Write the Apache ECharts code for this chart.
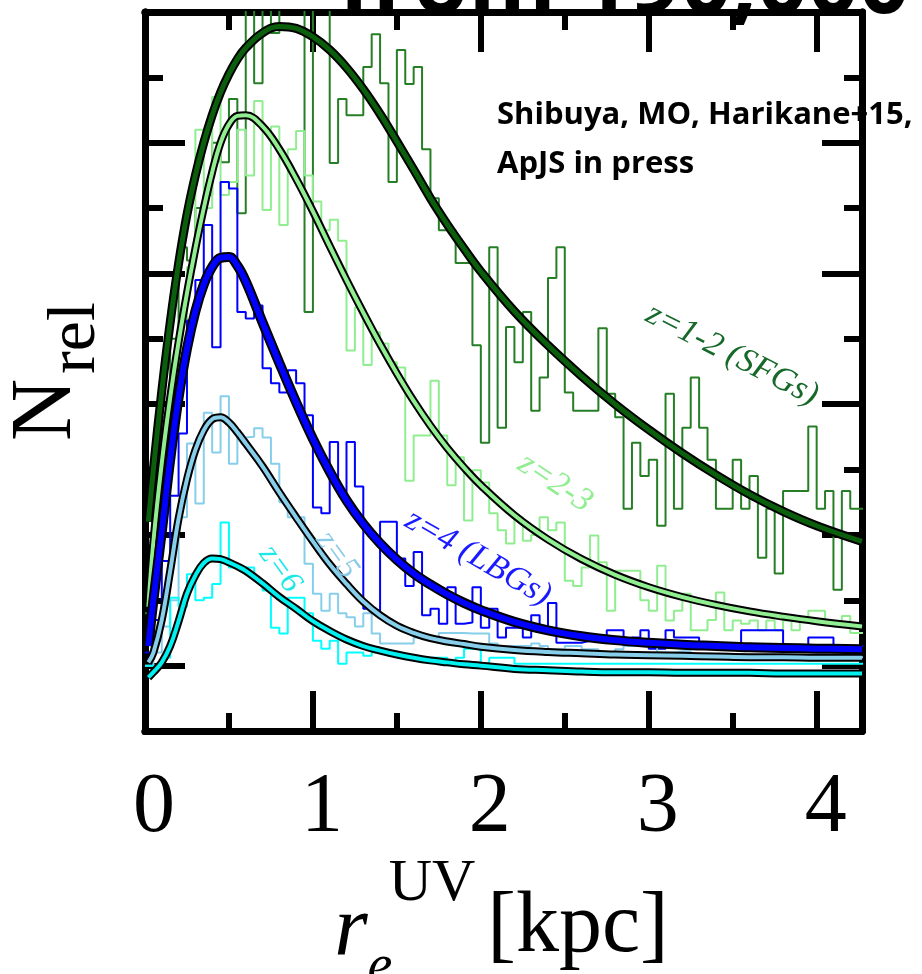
<!DOCTYPE html>
<html>
<head>
<meta charset="utf-8">
<script src="https://cdn.jsdelivr.net/npm/echarts@6/dist/echarts.min.js"></script>
<style>
  html, body { margin: 0; padding: 0; background: #fff; }
  #chart { width: 922px; height: 974px; }
</style>
</head>
<body>
<div id="chart"></div>
<script>
// bin width of the histograms (kpc); bins start at r = 0
const BIN = 0.05;
const X_MAX = 4.27;

// histograms, one value per bin
const hist12 = [0.8, 2.6, 3.8, 5.0, 6.4, 6.2, 7.0, 7.2, 8.0, 7.7,
  8.67, 6.92, 10.6, 8.91, 10.6, 9.68, 10.6, 10.6, 10.6, 5.41,
  10.6, 10.6, 7.69, 8.67, 8.42, 8.42, 9.16, 9.66, 8.91, 7.4,
  9.42, 8.9, 9.16, 7.9, 7.15, 6.66, 6.66, 6.16, 6.16, 4.9,
  3.41, 6.4, 3.64, 5.18, 4.64, 5.41, 3.9, 4.41, 5.93, 6.4,
  4.18, 3.9, 3.9, 3.9, 5.16, 4.16, 3.8, 2.4, 3.41, 2.9,
  3.15, 2.14, 4.16, 2.4, 3.64, 4.41, 3.64, 3.15, 2.4, 2.4,
  3.15, 2.4, 2.9, 1.65, 2.4, 1.41, 2.67, 2.67, 2.67, 3.66,
  2.4, 2.67, 1.16, 2.67, 2.4, 2.4];
const hist23 = [0.5, 1.5, 2.6, 3.6, 5.3, 6.1, 8.2, 7.0, 8.7, 7.2,
  7.4, 8.2, 7.5, 8.64, 6.97, 8.25, 6.74, 7.9, 8.18, 7.5,
  7.1, 6.66, 6.82, 6.5, 4.82, 5.48, 4.6, 5.1, 4.93, 4.64,
  4.56, 2.83, 3.52, 3.52, 4.36, 3.52, 2.76, 3.19, 2.22, 2.99,
  2.8, 2.33, 2.07, 1.87, 2.27, 1.91, 2.0, 2.27, 2.07, 2.19,
  1.3, 1.22, 1.5, 1.99, 1.58, 0.84, 1.45, 1.45, 1.45, 1.0,
  0.84, 1.53, 0.69, 0.84, 1.1, 0.54, 0.54, 0.7, 1.12, 0.54,
  0.69, 0.64, 0.69, 0.54, 0.69, 0.54, 0.69, 0.54, 0.69, 0.84,
  0.84, 0.69, 0.6, 0.76, 0.5, 0.5];
const hist4 = [0.2, 0.7, 1.6, 2.6, 3.55, 5.28, 5.9, 6.74, 4.87, 7.4,
  7.3, 5.41, 5.31, 5.51, 4.55, 4.32, 4.18, 4.52, 4.32, 3.83,
  2.42, 2.33, 3.42, 2.63, 3.42, 2.74, 0.87, 0.84, 2.2, 2.2,
  1.64, 1.22, 1.74, 0.77, 0.87, 0.64, 1.2, 0.64, 0.66, 1.2,
  0.58, 0.87, 0.43, 0.58, 0.58, 0.43, 0.77, 0.58, 0.96, 0.35,
  0.35, 0.35, 0.38, 0.38, 0.38, 0.54, 0.54, 0.3, 0.43, 0.54,
  0.26, 0.26, 0.54, 0.43, 0.43, 0.43, 0.26, 0.26, 0.26, 0.26,
  0.3, 0.54, 0.54, 0.54, 0.54, 0.54, 0.3, 0.3, 0.3, 0.43,
  0.43, 0.43, 0.3, 0.3, 0.3, 0.3];
const hist5 = [0.0, 0.2, 0.6, 1.0, 2.27, 3.4, 2.48, 3.87, 3.26, 4.12,
  3.09, 3.49, 3.5, 3.63, 3.49, 3.09, 2.5, 2.27, 2.27, 1.56,
  1.1, 0.84, 1.1, 0.8, 0.74, 0.6, 0.8, 0.49, 0.34, 0.34,
  0.34, 0.34, 0.43, 0.43, 0.43, 0.5, 0.5, 0.5, 0.49, 0.49,
  0.49, 0.34, 0.3, 0.3, 0.3, 0.3, 0.34, 0.3, 0.25, 0.25,
  0.3, 0.3, 0.25, 0.25, 0.2, 0.2, 0.25, 0.3, 0.3, 0.3,
  0.3, 0.2, 0.2, 0.22, 0.22, 0.15, 0.15, 0.13, 0.13, 0.15,
  0.15, 0.13, 0.13, 0.15, 0.15, 0.13, 0.13, 0.13, 0.15, 0.15,
  0.13, 0.13, 0.13, 0.13, 0.13, 0.13];
const hist6 = [0.0, 0.0, 0.12, 1.04, 0.9, 1.4, 1.0, 1.04, 1.25, 2.19,
  1.5, 1.5, 1.5, 1.3, 1.15, 0.58, 0.49, 1.04, 1.04, 0.8,
  0.38, 0.26, 0.38, 0.03, 0.2, 0.2, 0.15, 0.23, 0.23, 0.15,
  0.15, 0.15, 0.12, 0.12, 0.12, 0.12, 0.03, 0.12, 0.26, 0.26,
  0.03, 0.12, 0.12, 0.12, 0.03, 0.03, 0.03, 0.03, 0.03, 0.03,
  0.03, 0.03, 0.03, 0.03, 0.03, 0.03, 0.03, 0.03, 0.03, 0.03,
  0.03, 0.03, 0.03, 0.03, 0.03, 0.03, 0.03, 0.03, 0.03, 0.03,
  0.03, 0.03, 0.03, 0.03, 0.03, 0.03, 0.03, 0.03, 0.03, 0.03,
  0.03, 0.03, 0.03, 0.03, 0.03, 0.03];

// fitted curves, sampled at fitX
const fitX = [0.02, 0.05, 0.1, 0.15, 0.2, 0.25, 0.3, 0.35, 0.4, 0.45,
  0.5, 0.55, 0.6, 0.7, 0.8, 0.9, 1.0, 1.1, 1.2, 1.3,
  1.4, 1.5, 1.6, 1.7, 1.8, 1.9, 2.0, 2.2, 2.4, 2.6,
  2.8, 3.0, 3.2, 3.4, 3.6, 3.8, 4.0, 4.27];
const fit12 = [2.2, 3.0, 4.2, 5.25, 6.15, 6.9, 7.5, 8.0, 8.42, 8.77,
  9.05, 9.28, 9.45, 9.68, 9.78, 9.75, 9.62, 9.42, 9.15, 8.82,
  8.44, 8.02, 7.59, 7.15, 6.75, 6.38, 6.03, 5.42, 4.9, 4.43,
  4.0, 3.61, 3.25, 2.92, 2.62, 2.36, 2.14, 1.9];
const fit23 = [0.9, 1.9, 3.1, 4.1, 4.95, 5.7, 6.38, 7.0, 7.55, 8.0,
  8.28, 8.41, 8.42, 8.25, 7.9, 7.45, 6.95, 6.42, 5.9, 5.4,
  4.92, 4.47, 4.05, 3.67, 3.33, 3.03, 2.76, 2.3, 1.93, 1.63,
  1.39, 1.2, 1.05, 0.93, 0.83, 0.75, 0.68, 0.6];
const fit4 = [0.3, 1.0, 2.05, 3.15, 4.1, 4.85, 5.42, 5.83, 6.1, 6.24,
  6.25, 6.12, 5.88, 5.25, 4.63, 4.03, 3.47, 2.97, 2.53, 2.17,
  1.87, 1.62, 1.41, 1.24, 1.09, 0.96, 0.85, 0.67, 0.54, 0.45,
  0.39, 0.35, 0.32, 0.3, 0.28, 0.27, 0.26, 0.25];
const fit5 = [0.05, 0.2, 0.7, 1.45, 2.25, 2.85, 3.3, 3.6, 3.77, 3.8,
  3.72, 3.57, 3.4, 3.05, 2.65, 2.27, 1.9, 1.55, 1.25, 0.98,
  0.77, 0.61, 0.5, 0.42, 0.37, 0.33, 0.29, 0.24, 0.21, 0.19,
  0.17, 0.16, 0.15, 0.14, 0.13, 0.13, 0.12, 0.12];
const fit6 = [-0.18, -0.1, 0.05, 0.3, 0.68, 1.1, 1.38, 1.57, 1.64, 1.63,
  1.58, 1.52, 1.45, 1.26, 1.05, 0.87, 0.68, 0.53, 0.4, 0.3,
  0.23, 0.17, 0.12, 0.08, 0.05, 0.02, 0.0, -0.05, -0.07, -0.09,
  -0.1, -0.1, -0.11, -0.11, -0.11, -0.12, -0.12, -0.12];

// tick values: long ticks on the main steps, short ones in between
const xMajor = [0, 1, 2, 3, 4];
const xMinor = [0.5, 1.5, 2.5, 3.5];
const yMajor = [0, 2, 4, 6, 8];
const yMinor = [1, 3, 5, 7, 9];

const groups = [
  { hist: hist12, fit: fit12, histColor: '#267f26', fitColor: '#0b5e0b', fitWidth: 5, label: 'z=1-2 (SFGs)', textColor: '#17692a' },
  { hist: hist23, fit: fit23, histColor: '#90ee90', fitColor: '#90ee90', fitWidth: 4, label: 'z=2-3', textColor: '#90ee90' },
  { hist: hist4, fit: fit4, histColor: '#0000ff', fitColor: '#0000ff', fitWidth: 6, label: 'z=4 (LBGs)', textColor: '#1a1aff' },
  { hist: hist5, fit: fit5, histColor: '#87ceeb', fitColor: '#87ceeb', fitWidth: 4, label: 'z=5', textColor: '#8ccbe8' },
  { hist: hist6, fit: fit6, histColor: '#00ffff', fitColor: '#00f0f0', fitWidth: 4, label: 'z=6', textColor: '#1de8e8' }
];

function stepData(vals) {
  const d = vals.map((v, k) => [+(k * BIN).toFixed(2), v]);
  d.push([+(vals.length * BIN).toFixed(2), vals[vals.length - 1]]);
  return d;
}

const series = [];
groups.forEach(g => {
  series.push({
    type: 'line', step: 'end', symbol: 'none', silent: true, z: 2,
    xAxisIndex: 0, yAxisIndex: 0,
    data: stepData(g.hist),
    lineStyle: { color: g.histColor, width: 2 }
  });
});
groups.forEach(g => {
  const d = fitX.map((x, i) => [x, g.fit[i]]);
  series.push({
    type: 'line', smooth: 0.4, symbol: 'none', silent: true, z: 3,
    xAxisIndex: 0, yAxisIndex: 0,
    data: d, lineStyle: { color: '#000', width: g.fitWidth + 4 }
  });
  series.push({
    type: 'line', smooth: 0.4, symbol: 'none', silent: true, z: 3,
    xAxisIndex: 0, yAxisIndex: 0,
    data: d, lineStyle: { color: g.fitColor, width: g.fitWidth }
  });
});

const frame = { show: true, onZero: false, lineStyle: { color: '#000', width: 7 } };
function tick(len, values) {
  return { show: true, inside: true, length: len, customValues: values, lineStyle: { color: '#000', width: 6 } };
}
const xBase = { type: 'value', min: 0, max: X_MAX, splitLine: { show: false }, axisLabel: { show: false }, axisLine: frame };
const yBase = { type: 'value', min: -1, max: 10, splitLine: { show: false }, axisLabel: { show: false }, axisLine: frame };

const serif = '"Liberation Serif", "DejaVu Serif", serif';

// the second grid sits on top of the first and only carries the long ticks
const option = {
  animation: false,
  backgroundColor: '#fff',
  grid: [
    { left: 145, right: 60, top: 12, bottom: 243 },
    { left: 145, right: 60, top: 12, bottom: 243 }
  ],
  xAxis: [
    Object.assign({}, xBase, {
      gridIndex: 0, position: 'bottom', axisTick: tick(18, xMinor),
      axisLabel: {
        show: true, margin: 36, color: '#000', fontFamily: serif, fontSize: 84, lineHeight: 84,
        padding: [0, 0, 0, 18], customValues: xMajor
      }
    }),
    Object.assign({}, xBase, { gridIndex: 1, position: 'bottom', axisTick: tick(40, xMajor) }),
    Object.assign({}, xBase, { gridIndex: 0, position: 'top', axisTick: tick(18, xMinor) }),
    Object.assign({}, xBase, { gridIndex: 1, position: 'top', axisTick: tick(40, xMajor) })
  ],
  yAxis: [
    Object.assign({}, yBase, { gridIndex: 0, position: 'left', axisTick: tick(18, yMinor) }),
    Object.assign({}, yBase, { gridIndex: 1, position: 'left', axisTick: tick(40, yMajor) }),
    Object.assign({}, yBase, { gridIndex: 0, position: 'right', axisTick: tick(18, yMinor) }),
    Object.assign({}, yBase, { gridIndex: 1, position: 'right', axisTick: tick(40, yMajor) })
  ],
  series: series,
  graphic: [
    // slide title, cut off by the top edge
    { type: 'text', x: 624, y: 32, z: 0,
      style: { text: 'from 190,000', font: 'bold 89px "Open Sans"', fill: '#000', align: 'center', verticalAlign: 'bottom' } },
    { type: 'text', x: 497, y: 91, z: 1,
      style: { text: 'Shibuya, MO, Harikane+15,\nApJS in press', font: 'bold 31px "Open Sans"', lineHeight: 49,
        fill: '#000', align: 'left', verticalAlign: 'top' } },
    // series labels
    { type: 'text', x: 732, y: 355, rotation: -0.47, z: 10,
      style: { text: groups[0].label, font: 'italic 34px ' + serif, fill: groups[0].textColor, align: 'center', verticalAlign: 'middle' } },
    { type: 'text', x: 555, y: 483, rotation: -0.58, z: 10,
      style: { text: groups[1].label, font: 'italic 34px ' + serif, fill: groups[1].textColor, align: 'center', verticalAlign: 'middle' } },
    { type: 'text', x: 478, y: 558, rotation: -0.52, z: 10,
      style: { text: groups[2].label, font: 'italic 34px ' + serif, fill: groups[2].textColor, align: 'center', verticalAlign: 'middle' } },
    { type: 'text', x: 337, y: 555, rotation: -0.95, z: 10,
      style: { text: groups[3].label, font: 'italic 32px ' + serif, fill: groups[3].textColor, align: 'center', verticalAlign: 'middle' } },
    { type: 'text', x: 280, y: 569, rotation: -0.95, z: 10,
      style: { text: groups[4].label, font: 'italic 32px ' + serif, fill: groups[4].textColor, align: 'center', verticalAlign: 'middle' } },
    // y axis name N_rel
    { type: 'text', x: 47, y: 410, rotation: Math.PI / 2,
      style: { text: 'N', font: '86px ' + serif, fill: '#000', align: 'center', verticalAlign: 'middle' } },
    { type: 'text', x: 76, y: 338, rotation: Math.PI / 2,
      style: { text: 'rel', font: '68px ' + serif, fill: '#000', align: 'center', verticalAlign: 'middle' } },
    // x axis name r_e^UV [kpc]
    { type: 'text', x: 351, y: 932,
      style: { text: 'r', font: 'italic 86px ' + serif, fill: '#000', align: 'center', verticalAlign: 'middle' } },
    { type: 'text', x: 380, y: 968,
      style: { text: 'e', font: 'italic 56px ' + serif, fill: '#000', align: 'center', verticalAlign: 'middle' } },
    { type: 'text', x: 432, y: 884,
      style: { text: 'UV', font: '60px ' + serif, fill: '#000', align: 'center', verticalAlign: 'middle' } },
    { type: 'text', x: 578, y: 928,
      style: { text: '[kpc]', font: '86px ' + serif, fill: '#000', align: 'center', verticalAlign: 'middle' } }
  ]
};

const chart = echarts.init(document.getElementById('chart'), null, { renderer: 'canvas' });
chart.setOption(option);
</script>
</body>
</html>
